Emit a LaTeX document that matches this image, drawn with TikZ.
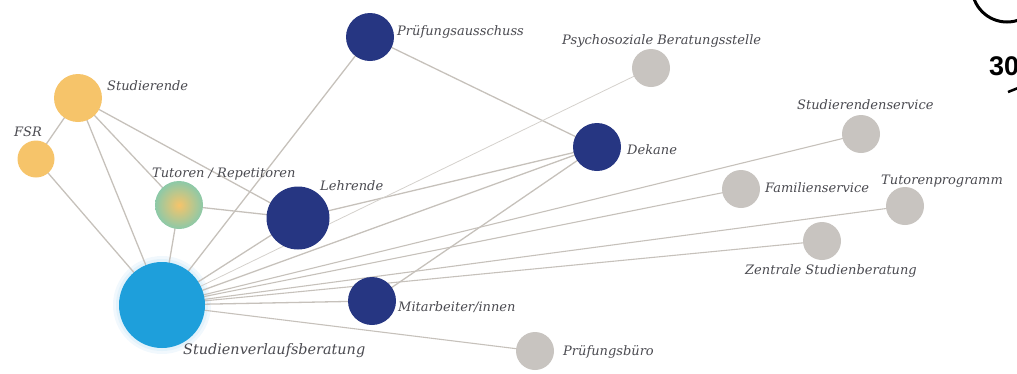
\documentclass[tikz,border=0pt]{standalone}
\usepackage{fontspec}
\setmainfont{DejaVu Serif}
\setsansfont{Liberation Sans}
\pgfdeclarelayer{bg}
\pgfsetlayers{bg,main}
\definecolor{hubc}{HTML}{1E9FDB}
\definecolor{glowc}{HTML}{D6ECF9}
\definecolor{studc}{HTML}{F6C46A}
\definecolor{tutout}{HTML}{8CC9A8}
\definecolor{staffc}{HTML}{263682}
\definecolor{extc}{HTML}{C8C4C0}
\definecolor{linec}{HTML}{C6C1BB}
\definecolor{labelc}{HTML}{4A4A50}
\tikzset{
  dot/.style={circle, inner sep=0pt, minimum size=#1},
  hubdot/.style={dot=86pt, fill=hubc},
  studdot/.style={dot=#1, fill=studc},
  tutdot/.style={dot=48pt, inner color=studc, outer color=tutout},
  staffdot/.style={dot=#1, fill=staffc},
  extdot/.style={dot=38pt, fill=extc},
  lbl/.style={anchor=base west, inner sep=0pt, text=labelc,
              font=\itshape\fontsize{13}{15}\selectfont},
  hublbl/.style={lbl, font=\itshape\fontsize{14.4}{16}\selectfont},
  link/.style={draw=linec, line width=1.3pt},
  farlink/.style={draw=linec, line width=1.1pt},
  thinlink/.style={draw=linec!75, line width=0.8pt}
}
\begin{document}
\begin{tikzpicture}[x=1pt,y=-1pt]
\useasboundingbox (0,0) rectangle (1017,373);
\clip (0,0) rectangle (1017,373);

% soft halo round the central office
\begin{pgfonlayer}{bg}
  \fill[glowc!35] (162,305) circle[radius=49pt];
  \fill[glowc!70] (162,305) circle[radius=46pt];
\end{pgfonlayer}

% actors
\node[hubdot]      (svb)  at (162,305) {};
\node[studdot=48pt] (stud) at (78,98)  {};
\node[studdot=37pt] (fsr)  at (36,159) {};
\node[tutdot]      (tut)  at (179,205) {};
\node[staffdot=63pt] (lehr) at (298,218) {};
\node[staffdot=48pt] (pa)   at (370,37)  {};
\node[staffdot=48pt] (dek)  at (597,147) {};
\node[staffdot=48pt] (mit)  at (372,301) {};
\node[extdot]      (psy)  at (651,68)  {};
\node[extdot]      (sds)  at (861,134) {};
\node[extdot]      (fam)  at (741,189) {};
\node[extdot]      (tp)   at (905,206) {};
\node[extdot]      (zsb)  at (822,241) {};
\node[extdot]      (pb)   at (535,351) {};

% relations
\begin{pgfonlayer}{bg}
  \draw[link] (stud.center) -- (fsr.center);
  \draw[link] (stud.center) -- (svb.center);
  \draw[link] (stud.center) -- (tut.center);
  \draw[link] (stud.center) -- (lehr.center);
  \draw[link] (fsr.center)  -- (svb.center);
  \draw[link] (tut.center)  -- (svb.center);
  \draw[link] (tut.center)  -- (lehr.center);
  \draw[link] (lehr.center) -- (svb.center);
  \draw[link] (lehr.center) -- (dek.center);
  \draw[link] (pa.center)   -- (svb.center);
  \draw[link] (pa.center)   -- (dek.center);
  \draw[thinlink] (psy.center) -- (svb.center);
  \draw[link] (dek.center)  -- (svb.center);
  \draw[link] (dek.center)  -- (mit.center);
  \draw[farlink] (sds.center) -- (svb.center);
  \draw[farlink] (fam.center) -- (svb.center);
  \draw[farlink] (tp.center)  -- (svb.center);
  \draw[farlink] (zsb.center) -- (svb.center);
  \draw[link] (mit.center)  -- (svb.center);
  \draw[farlink] (pb.center)  -- (svb.center);
\end{pgfonlayer}

% labels
\node[lbl] (lpa)   at (397,35)  {Prüfungsausschuss};
\node[lbl] (lpsy)  at (562,44)  {Psychosoziale Beratungsstelle};
\node[lbl] (lstud) at (107,90)  {Studierende};
\node[lbl] (lfsr)  at (14,136)  {FSR};
\node[lbl] (lsds)  at (797,109) {Studierendenservice};
\node[lbl] (ldek)  at (627,154) {Dekane};
\node[lbl] (ltut)  at (152,177) {Tutoren / Repetitoren};
\node[lbl] (llehr) at (320,190) {Lehrende};
\node[lbl] (lfam)  at (765,192) {Familienservice};
\node[lbl] (ltp)   at (881,184) {Tutorenprogramm};
\node[lbl] (lzsb)  at (745,274) {Zentrale Studienberatung};
\node[lbl] (lmit)  at (398,311) {Mitarbeiter/innen};
\node[hublbl] (lsvb) at (183,354) {Studienverlaufsberatung};
\node[lbl] (lpb)   at (563,355) {Prüfungsbüro};

% page marker in the corner
\draw[line width=3pt] (1007,-13) circle[radius=35pt];
\node[anchor=base west, inner sep=0pt, font=\sffamily\bfseries\fontsize{27}{29}\selectfont]
  (pageno) at (989,75) {30};
\draw[line width=2.5pt] (1008,92) -- (1018,88);
\end{tikzpicture}
\end{document}
